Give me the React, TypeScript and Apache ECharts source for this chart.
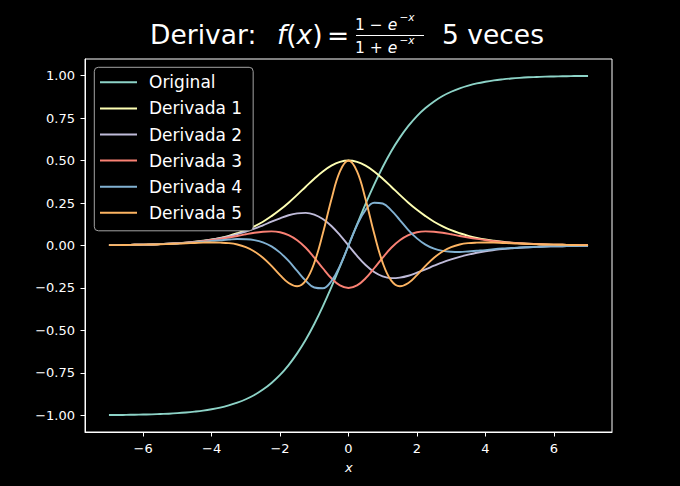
import React, { useEffect, useRef } from "react";
import * as echarts from "echarts";

const X_VALUES = [
  -7, -6.75, -6.5, -6.25, -6, -5.75, -5.5, -5.25, -5, -4.75, -4.5, -4.25, -4, -3.75,
  -3.5, -3.25, -3, -2.75, -2.5, -2.25, -2, -1.75, -1.5, -1.25, -1, -0.75, -0.5, -0.25,
  0,
  0.25, 0.5, 0.75, 1, 1.25, 1.5, 1.75, 2, 2.25, 2.5, 2.75, 3, 3.25, 3.5, 3.75,
  4, 4.25, 4.5, 4.75, 5, 5.25, 5.5, 5.75, 6, 6.25, 6.5, 6.75, 7,
];

const ORIGINAL = [
  -0.998, -0.998, -0.997, -0.996, -0.995, -0.994, -0.992, -0.99, -0.987, -0.983, -0.978, -0.972, -0.964, -0.954,
  -0.941, -0.925, -0.905, -0.88, -0.848, -0.809, -0.762, -0.704, -0.635, -0.555, -0.462, -0.358, -0.245, -0.124,
  0,
  0.124, 0.245, 0.358, 0.462, 0.555, 0.635, 0.704, 0.762, 0.809, 0.848, 0.88, 0.905, 0.925, 0.941,
  0.954, 0.964, 0.972, 0.978, 0.983, 0.987, 0.99, 0.992, 0.994, 0.995, 0.996, 0.997, 0.998, 0.998,
];

const DERIVADA_1 = [
  0.002, 0.002, 0.003, 0.004, 0.005, 0.006, 0.008, 0.01, 0.013, 0.017, 0.022, 0.028, 0.035, 0.045,
  0.057, 0.072, 0.09, 0.113, 0.14, 0.173, 0.21, 0.252, 0.298, 0.346, 0.393, 0.436, 0.47, 0.492,
  0.5,
  0.492, 0.47, 0.436, 0.393, 0.346, 0.298, 0.252, 0.21, 0.173, 0.14, 0.113, 0.09, 0.072, 0.057,
  0.045, 0.035, 0.028, 0.022, 0.017, 0.013, 0.01, 0.008, 0.006, 0.005, 0.004, 0.003, 0.002, 0.002,
];

const DERIVADA_2 = [
  0.002, 0.002, 0.003, 0.004, 0.005, 0.006, 0.008, 0.01, 0.013, 0.017, 0.021, 0.027, 0.034, 0.043,
  0.054, 0.067, 0.082, 0.099, 0.119, 0.14, 0.16, 0.178, 0.189, 0.192, 0.182, 0.156, 0.115, 0.061,
  0,
  -0.061, -0.115, -0.156, -0.182, -0.192, -0.189, -0.178, -0.16, -0.14, -0.119, -0.099, -0.082, -0.067, -0.054,
  -0.043, -0.034, -0.027, -0.021, -0.017, -0.013, -0.01, -0.008, -0.006, -0.005, -0.004, -0.003, -0.002, -0.002,
];

const DERIVADA_3 = [
  0.002, 0.002, 0.003, 0.004, 0.005, 0.006, 0.008, 0.01, 0.013, 0.016, 0.02, 0.025, 0.032, 0.039,
  0.047, 0.056, 0.066, 0.075, 0.081, 0.083, 0.078, 0.061, 0.031, -0.013, -0.071, -0.134, -0.193, -0.235,
  -0.25,
  -0.235, -0.193, -0.134, -0.071, -0.013, 0.031, 0.061, 0.078, 0.083, 0.081, 0.075, 0.066, 0.056, 0.047,
  0.039, 0.032, 0.025, 0.02, 0.016, 0.013, 0.01, 0.008, 0.006, 0.005, 0.004, 0.003, 0.002, 0.002,
];

const DERIVADA_4 = [
  0.002, 0.002, 0.003, 0.004, 0.005, 0.006, 0.008, 0.01, 0.012, 0.015, 0.018, 0.022, 0.027, 0.031,
  0.035, 0.038, 0.037, 0.032, 0.019, -0.005, -0.042, -0.091, -0.15, -0.207, -0.247, -0.252, -0.21, -0.12,
  0,
  0.12, 0.21, 0.252, 0.247, 0.207, 0.15, 0.091, 0.042, 0.005, -0.019, -0.032, -0.037, -0.038, -0.035,
  -0.031, -0.027, -0.022, -0.018, -0.015, -0.012, -0.01, -0.008, -0.006, -0.005, -0.004, -0.003, -0.002, -0.002,
];

const DERIVADA_5 = [
  0.002, 0.002, 0.003, 0.004, 0.005, 0.006, 0.007, 0.009, 0.011, 0.013, 0.015, 0.017, 0.018, 0.017,
  0.014, 0.006, -0.01, -0.035, -0.072, -0.12, -0.174, -0.221, -0.24, -0.207, -0.102, 0.07, 0.271, 0.436,
  0.5,
  0.436, 0.271, 0.07, -0.102, -0.207, -0.24, -0.221, -0.174, -0.12, -0.072, -0.035, -0.01, 0.006, 0.014,
  0.017, 0.018, 0.017, 0.015, 0.013, 0.011, 0.009, 0.007, 0.006, 0.005, 0.004, 0.003, 0.002, 0.002,
];

const SERIES_NAMES = ["Original", "Derivada 1", "Derivada 2", "Derivada 3", "Derivada 4", "Derivada 5"];
const COLORS = ["#8dd3c7", "#feffb3", "#bfbbd9", "#fa8174", "#81b1d2", "#fdb462"];
const X_TICKS = [-6, -4, -2, 0, 2, 4, 6];
const Y_TICKS = [-1, -0.75, -0.5, -0.25, 0, 0.25, 0.5, 0.75, 1];

const FONT = '"DejaVu Sans", sans-serif';
const MINUS = "\u2212";
const fmt = (s: string) => s.replace("-", MINUS);

// vertical centre offset (central baseline) for DejaVu Sans
const C = 0.346;
const T_FS = 26.5;
const T_BASE = 43.8;
const N_FS = 15.5;
const S_FS = 10.5;

function txt(text: string, x: number, baseline: number, fs: number, italic = false, align = "left") {
  return {
    type: "text",
    x,
    y: baseline - C * fs,
    silent: true,
    style: {
      text,
      fill: "#ffffff",
      fontSize: fs,
      fontFamily: FONT,
      fontStyle: italic ? "italic" : "normal",
      align,
      verticalAlign: "middle",
    },
  };
}

export default function App() {
  const ref = useRef<HTMLDivElement>(null);

  useEffect(() => {
    document.body.style.margin = "0";
    document.body.style.background = "#000";
    const chart = echarts.init(ref.current as HTMLDivElement, null, { renderer: "svg" });
    const values = [ORIGINAL, DERIVADA_1, DERIVADA_2, DERIVADA_3, DERIVADA_4, DERIVADA_5];

    const numBase = 30.5;
    const denBase = 53.7;
    const supNumBase = 20.3;
    const supDenBase = 43.7;

    chart.setOption({
      animation: false,
      backgroundColor: "#000000",
      color: COLORS,
      textStyle: { fontFamily: FONT },
      grid: {
        left: 85,
        right: 68,
        top: 59,
        bottom: 54,
        show: true,
        borderColor: "#ffffff",
        borderWidth: 1,
        backgroundColor: "transparent",
      },
      xAxis: {
        type: "value",
        min: -7.7,
        max: 7.7,
        splitLine: { show: false },
        axisLine: { show: true, onZero: false, lineStyle: { color: "#ffffff", width: 1 } },
        axisTick: { show: true, customValues: X_TICKS, length: 4.5, lineStyle: { color: "#ffffff", width: 1 } },
        axisLabel: {
          customValues: X_TICKS,
          formatter: (v: number) => fmt(String(v)),
          color: "#ffffff",
          fontSize: 13,
          fontFamily: FONT,
          margin: 9.5,
        },
      },
      yAxis: {
        type: "value",
        min: -1.0978,
        max: 1.0978,
        splitLine: { show: false },
        axisLine: { show: true, onZero: false, lineStyle: { color: "#ffffff", width: 1 } },
        axisTick: { show: true, customValues: Y_TICKS, length: 4.5, lineStyle: { color: "#ffffff", width: 1 } },
        axisLabel: {
          customValues: Y_TICKS,
          formatter: (v: number) => fmt(v.toFixed(2)),
          color: "#ffffff",
          fontSize: 13,
          fontFamily: FONT,
          margin: 10,
        },
      },
      legend: {
        orient: "vertical",
        left: 94.3,
        top: 67.3,
        data: SERIES_NAMES,
        icon: "rect",
        itemWidth: 37,
        itemHeight: 2,
        itemGap: 6.1,
        padding: [5, 11, 8, 5.7],
        backgroundColor: "#000000",
        borderColor: "#a3a3a3",
        borderWidth: 1,
        borderRadius: 4,
        selectedMode: false,
        textStyle: { color: "#ffffff", fontSize: 17, fontFamily: FONT, lineHeight: 20, padding: [0, 0, 0, 7] },
      },
      series: SERIES_NAMES.map((name, i) => ({
        name,
        type: "line",
        data: X_VALUES.map((x, j) => [x, values[i][j]]),
        showSymbol: false,
        symbol: "none",
        smooth: 0.4,
        lineStyle: { width: 1.9, color: COLORS[i] },
        itemStyle: { color: COLORS[i] },
        emphasis: { disabled: true },
      })),
      graphic: [
        txt("Derivar:", 150.1, T_BASE, T_FS),
        txt("f", 277, T_BASE, T_FS, true),
        txt("(", 286.3, T_BASE, T_FS),
        txt("x", 296.6, T_BASE, T_FS, true),
        txt(")", 312.3, T_BASE, T_FS),
        txt("=", 338, T_BASE + 1, T_FS, false, "center"),
        txt("1 " + MINUS + " ", 355, numBase, N_FS),
        txt("e", 387.7, numBase, N_FS, true),
        txt(MINUS, 399.5, supNumBase, S_FS),
        txt("x", 408.3, supNumBase, S_FS, true),
        {
          type: "line",
          silent: true,
          shape: { x1: 356, y1: 35.5, x2: 424, y2: 35.5 },
          style: { stroke: "#ffffff", lineWidth: 1.1 },
        },
        txt("1 + ", 355, denBase, N_FS),
        txt("e", 387.7, denBase, N_FS, true),
        txt(MINUS, 399.5, supDenBase, S_FS),
        txt("x", 408.3, supDenBase, S_FS, true),
        txt("5 veces", 442, T_BASE, T_FS),
        txt("x", 348.8, 471.6, 13, true, "center"),
      ],
    });

    return () => chart.dispose();
  }, []);

  return <div ref={ref} style={{ position: "fixed", left: 0, top: 0, width: 680, height: 486 }} />;
}
